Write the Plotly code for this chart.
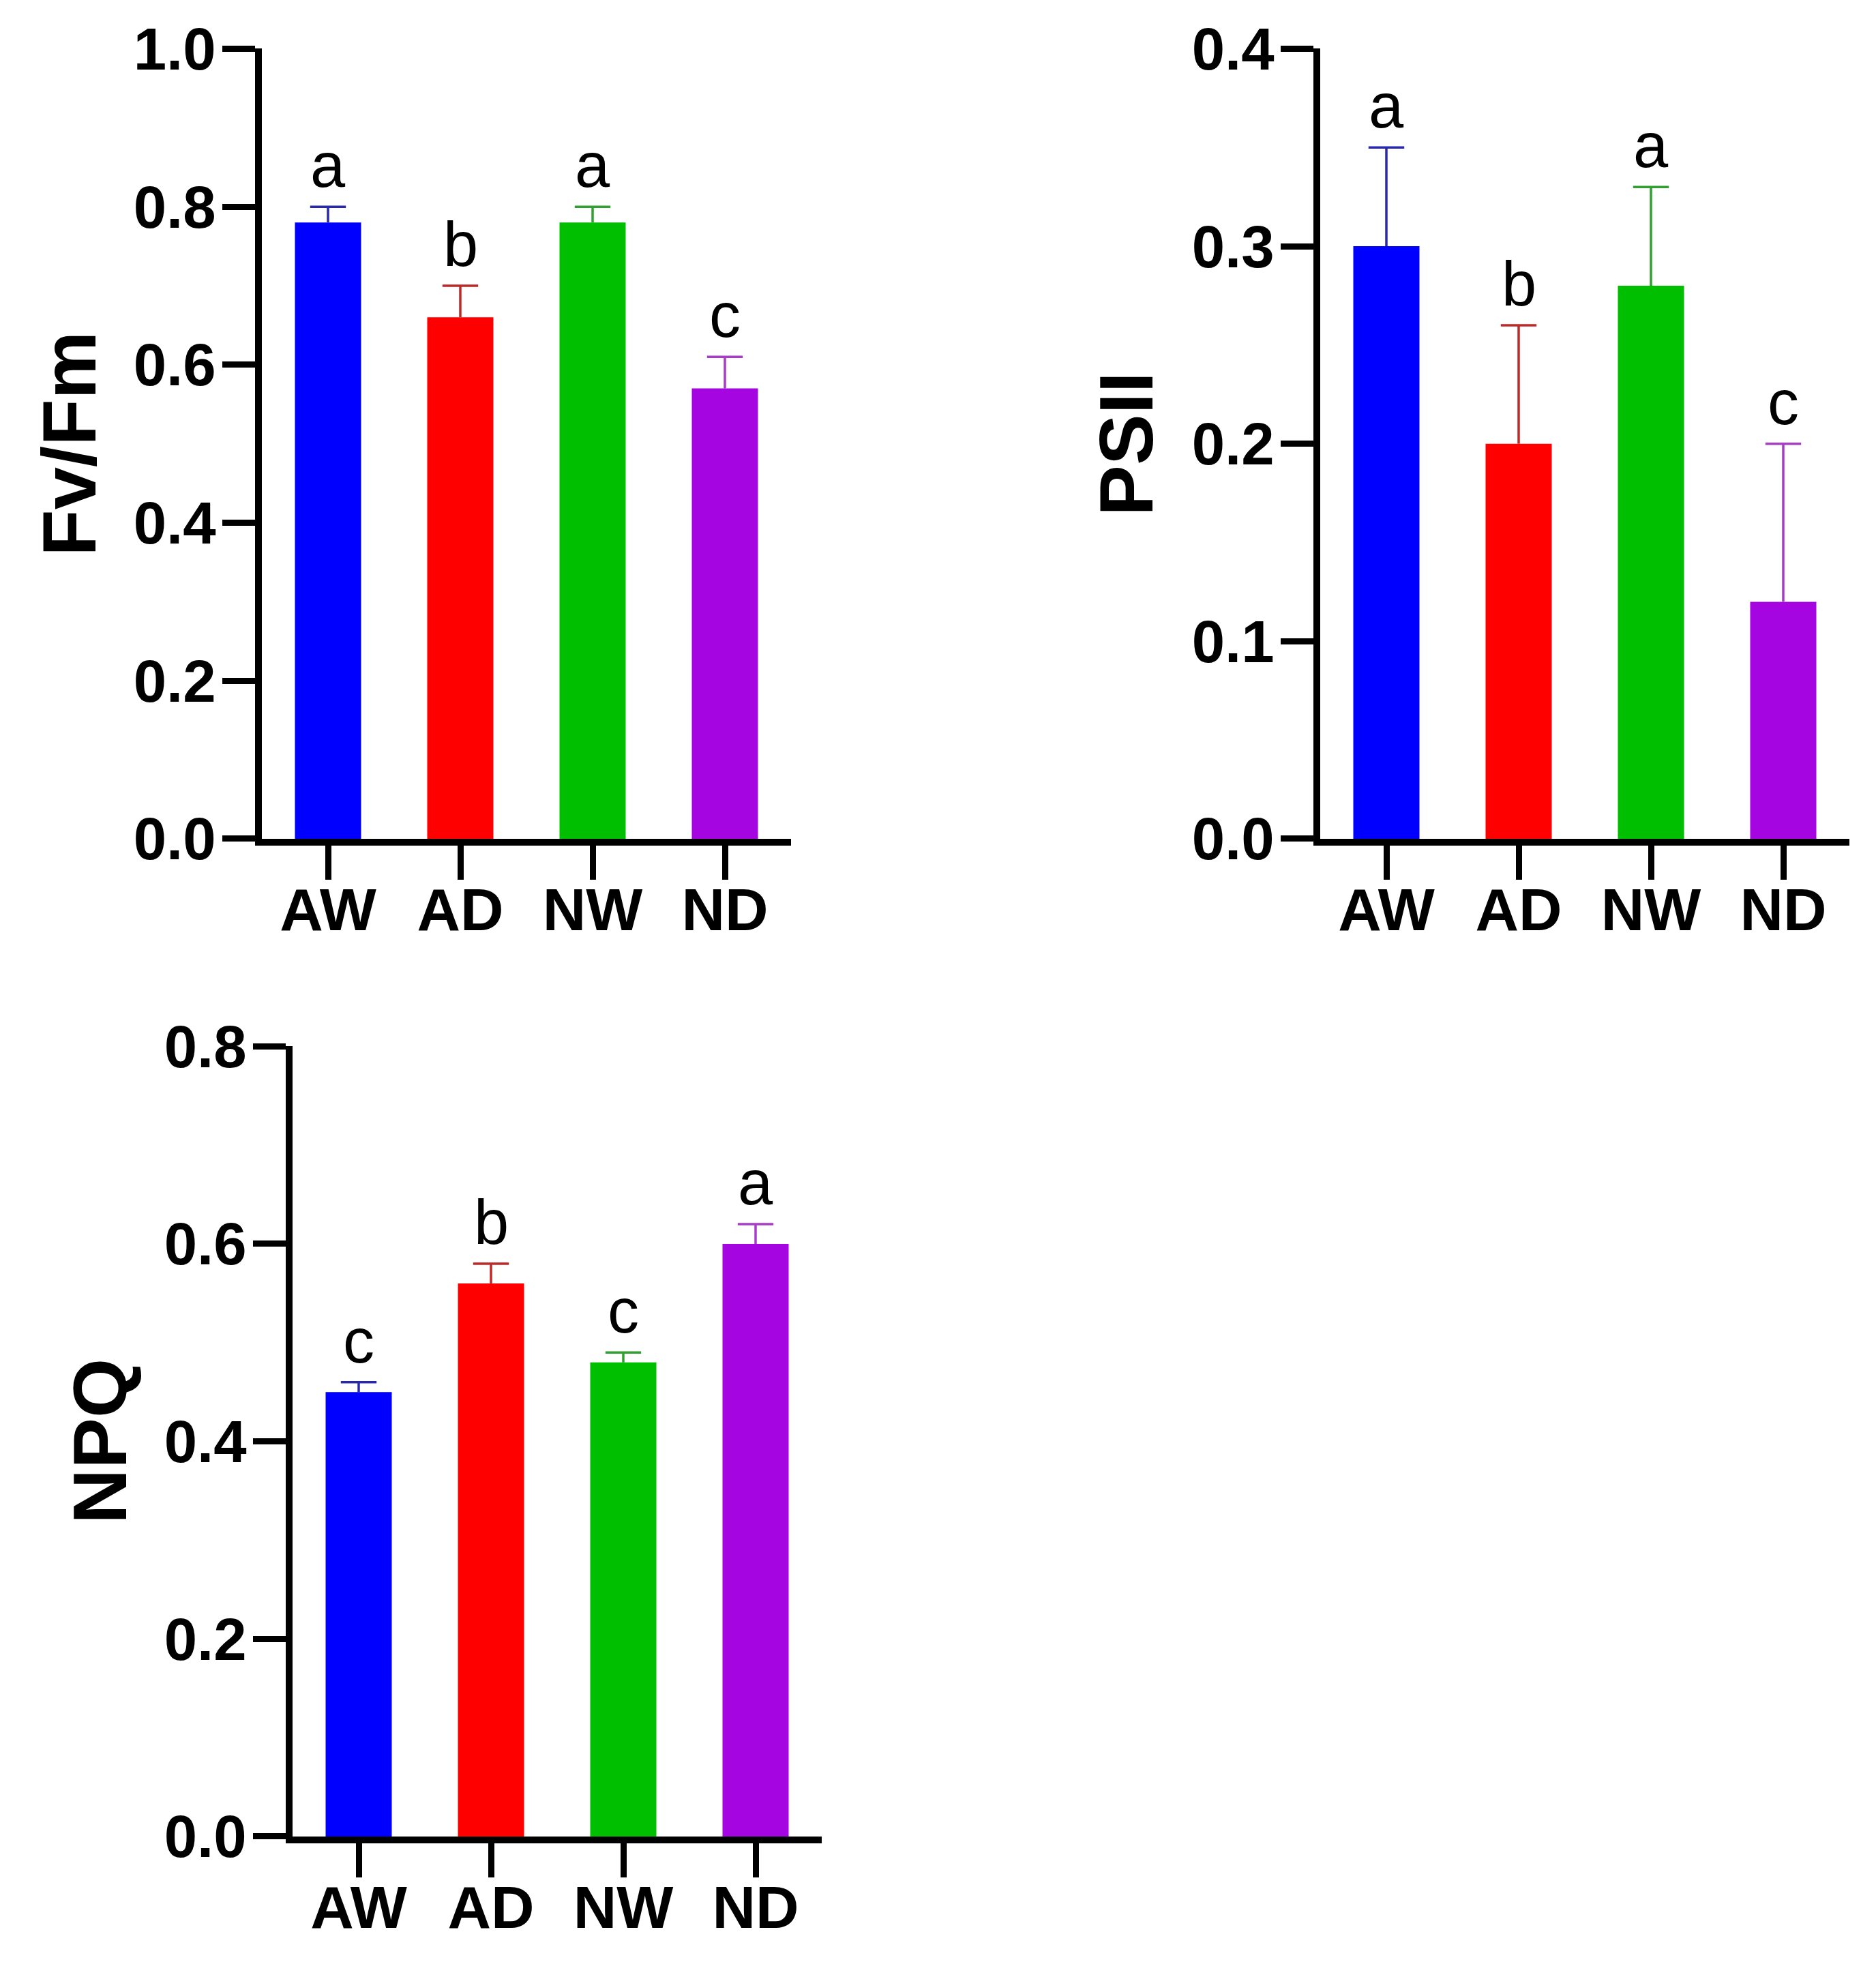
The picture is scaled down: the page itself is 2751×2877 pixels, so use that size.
import plotly.graph_objects as go

W, H = 2751, 2877

categories = ["AW", "AD", "NW", "ND"]
bar_colors = ["#0000FF", "#FF0000", "#00BF00", "#A505E0"]
err_colors = ["#2828AA", "#C02828", "#30A030", "#A83CC8"]

fvfm_mean = [0.78, 0.66, 0.78, 0.57]
fvfm_err = [0.02, 0.04, 0.02, 0.04]
fvfm_letters = ["a", "b", "a", "c"]

psii_mean = [0.30, 0.20, 0.28, 0.12]
psii_err = [0.05, 0.06, 0.05, 0.08]
psii_letters = ["a", "b", "a", "c"]

npq_mean = [0.45, 0.56, 0.48, 0.60]
npq_err = [0.01, 0.02, 0.01, 0.02]
npq_letters = ["c", "b", "c", "a"]

fvfm_ticks = [0.0, 0.2, 0.4, 0.6, 0.8, 1.0]
psii_ticks = [0.0, 0.1, 0.2, 0.3, 0.4]
npq_ticks = [0.0, 0.2, 0.4, 0.6, 0.8]


def vy(y):
    # pixel row in the page -> layout pixel row (compensates the capture offset)
    return (y - 57.6) / 0.965


panels = [
    dict(name="Fv/Fm", mean=fvfm_mean, err=fvfm_err, letters=fvfm_letters,
         ticks=fvfm_ticks, ymax=1.0, px=(376, 1152), py=(72, 1229), title_x=94),
    dict(name="PSII", mean=psii_mean, err=psii_err, letters=psii_letters,
         ticks=psii_ticks, ymax=0.4, px=(1928, 2704), py=(72, 1229), title_x=1644),
    dict(name="NPQ", mean=npq_mean, err=npq_err, letters=npq_letters,
         ticks=npq_ticks, ymax=0.8, px=(421, 1197), py=(1533, 2690), title_x=139),
]

fig = go.Figure()
annotations = []
FONT = "Liberation Sans, Arial, sans-serif"
layout = dict(
    width=W, height=H,
    margin=dict(l=0, r=0, t=0, b=0),
    paper_bgcolor="white", plot_bgcolor="white",
    showlegend=False,
    font=dict(family=FONT, color="black"),
)

cap_half = 0.135
xpos = list(range(len(categories)))

for k, p in enumerate(panels):
    sfx = "" if k == 0 else str(k + 1)
    xa, ya = "x" + sfx, "y" + sfx
    fig.add_trace(go.Bar(
        x=xpos, y=p["mean"], width=0.5,
        marker=dict(color=bar_colors, line=dict(width=0)),
        xaxis=xa, yaxis=ya, hoverinfo="skip",
    ))
    for i, (m, e) in enumerate(zip(p["mean"], p["err"])):
        top = m + e
        fig.add_trace(go.Scatter(
            x=[i, i, None, i - cap_half, i + cap_half],
            y=[m, top, None, top, top],
            mode="lines", line=dict(color=err_colors[i], width=3.5),
            xaxis=xa, yaxis=ya, hoverinfo="skip", cliponaxis=False,
        ))
        annotations.append(dict(
            x=i, y=top, xref=xa, yref=ya, text=p["letters"][i],
            showarrow=False, yanchor="bottom", xanchor="center", yshift=8,
            font=dict(size=92, family=FONT, color="black"),
        ))
    x0, x1 = p["px"]
    y0, y1 = vy(p["py"][0]), vy(p["py"][1])
    layout["xaxis" + sfx] = dict(
        domain=[x0 / W, x1 / W], range=[-0.5, 3.5], anchor=ya,
        tickmode="array", tickvals=xpos, ticktext=categories,
        showline=True, linecolor="black", linewidth=10,
        ticks="outside", ticklen=50, tickwidth=9, tickcolor="black",
        ticklabelstandoff=-32,
        showgrid=False, zeroline=False, fixedrange=True,
        tickfont=dict(size=88, family=FONT, color="black", weight="bold"),
    )
    layout["yaxis" + sfx] = dict(
        domain=[1 - y1 / H, 1 - y0 / H], range=[0, p["ymax"]], anchor=xa,
        tickmode="array", tickvals=p["ticks"], ticktext=["%.1f" % t for t in p["ticks"]],
        showline=True, linecolor="black", linewidth=10,
        ticks="outside", ticklen=48, tickwidth=9, tickcolor="black",
        ticklabelstandoff=-8,
        showgrid=False, zeroline=False, fixedrange=True,
        tickfont=dict(size=87, family=FONT, color="black", weight="bold"),
    )
    annotations.append(dict(
        x=p["title_x"] / W, y=1 - (y0 + y1) / 2 / H, xref="paper", yref="paper",
        text="<b>%s</b>" % p["name"], textangle=-90, showarrow=False,
        xanchor="center", yanchor="middle",
        font=dict(size=112, family=FONT, color="black"),
    ))

layout["annotations"] = annotations
fig.update_layout(**layout)
fig.write_html("out.html")
